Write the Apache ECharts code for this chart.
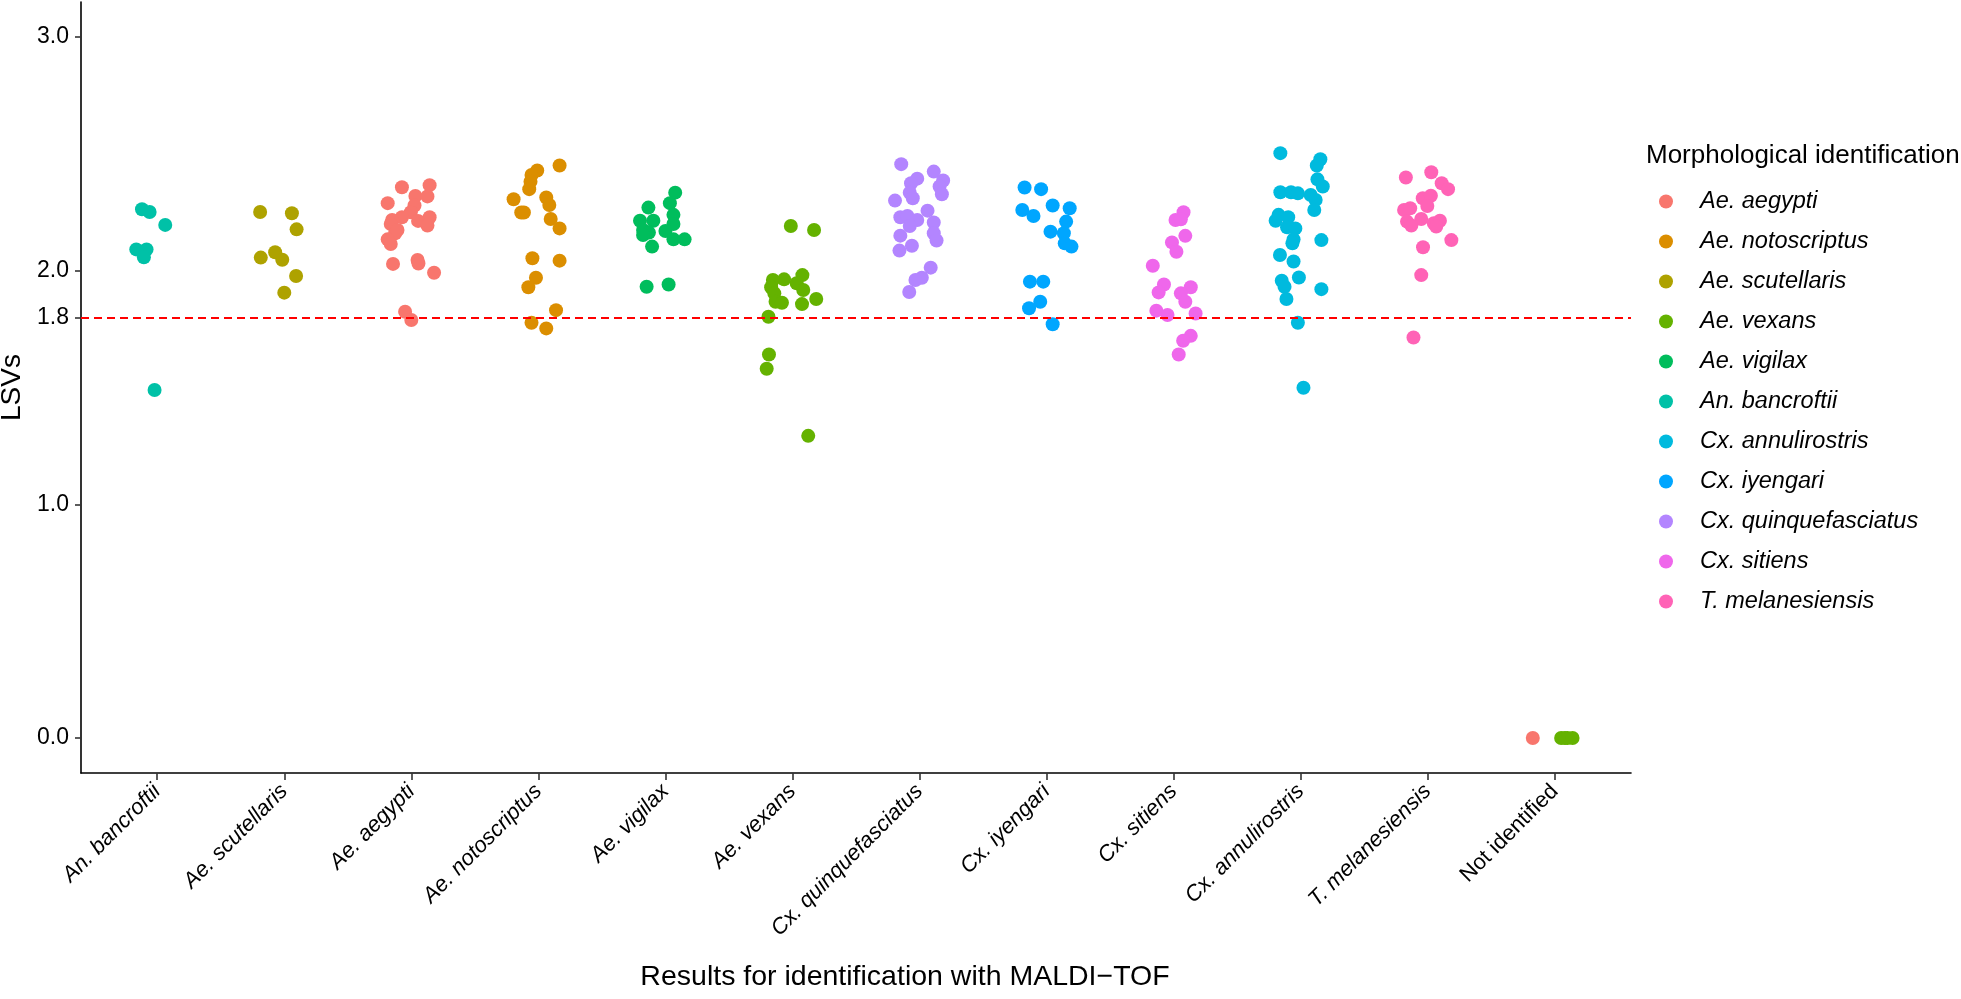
<!DOCTYPE html>
<html>
<head>
<meta charset="utf-8">
<style>
  html, body { margin: 0; padding: 0; background: #fff; }
  #chart { width: 1961px; height: 999px; }
</style>
<script src="https://cdn.jsdelivr.net/npm/echarts@6/dist/echarts.min.js"></script>
</head>
<body>
<div id="chart"></div>
<script>
/* ---------- categories / ticks ---------- */
const maldiCategories = [
  "An. bancroftii", "Ae. scutellaris", "Ae. aegypti", "Ae. notoscriptus", "Ae. vigilax",
  "Ae. vexans", "Cx. quinquefasciatus", "Cx. iyengari", "Cx. sitiens", "Cx. annulirostris",
  "T. melanesiensis", "Not identified"
];
const yTicks = [0, 1, 1.8, 2, 3];
const threshold = 1.8;

const morphSpecies = [
  "Ae. aegypti", "Ae. notoscriptus", "Ae. scutellaris", "Ae. vexans", "Ae. vigilax",
  "An. bancroftii", "Cx. annulirostris", "Cx. iyengari", "Cx. quinquefasciatus",
  "Cx. sitiens", "T. melanesiensis"
];
const morphColors = [
  "#F8766D", "#DB8E00", "#AEA200", "#64B200", "#00BD5C",
  "#00C1A7", "#00BADE", "#00A6FF", "#B385FF", "#EF67EB", "#FF63B6"
];

/* ---------- points: [MALDI category index, jitter, LSV] ---------- */
const aeAegypti = [[2,-0.074,2.357],[2,0.144,2.366],[2,-0.186,2.289],[2,0.032,2.32],[2,0.127,2.318],
  [2,0.025,2.279],[2,-0.004,2.25],[2,-0.074,2.229],[2,-0.151,2.217],[2,0.144,2.229],[2,0.053,2.213],
  [2,0.127,2.193],[2,-0.162,2.2],[2,-0.127,2.16],[2,-0.186,2.134],[2,-0.162,2.114],[2,-0.109,2.174],
  [2,-0.144,2.029],[2,0.049,2.046],[2,0.056,2.031],[2,0.179,1.991],[2,-0.049,1.824],[2,0,1.789],
  [11,-0.173,0]];
const aeNotoscriptus = [[3,0.167,2.45],[3,-0.009,2.429],[3,-0.054,2.41],[3,-0.062,2.381],[3,-0.072,2.349],
  [3,-0.195,2.306],[3,0.062,2.313],[3,0.086,2.281],[3,-0.135,2.249],[3,-0.114,2.249],[3,0.097,2.221],
  [3,0.167,2.181],[3,-0.047,2.053],[3,0.167,2.043],[3,-0.019,1.97],[3,-0.079,1.929],[3,0.139,1.831],
  [3,-0.054,1.777],[3,0.062,1.753]];
const aeScutellaris = [[1,-0.19,2.251],[1,0.06,2.246],[1,0.097,2.177],[1,-0.185,2.056],[1,-0.072,2.079],
  [1,-0.016,2.047],[1,0.093,1.977],[1,0,1.906]];
const aeVexans = [[5,-0.013,2.191],[5,0.17,2.174],[5,0.078,1.981],[5,-0.066,1.963],[5,-0.154,1.96],
  [5,0.033,1.946],[5,-0.168,1.929],[5,0.085,1.917],[5,-0.143,1.903],[5,0.187,1.879],[5,-0.133,1.867],
  [5,-0.083,1.863],[5,0.075,1.857],[5,-0.189,1.803],[5,-0.185,1.641],[5,-0.203,1.58],[5,0.124,1.293],
  [11,0.05,0],[11,0.08,0],[11,0.1,0],[11,0.14,0]];
const aeVigilax = [[4,0.077,2.334],[4,0.035,2.289],[4,-0.134,2.27],[4,0.063,2.239],[4,-0.2,2.214],
  [4,-0.095,2.214],[4,0.063,2.2],[4,-0.176,2.174],[4,-0.13,2.163],[4,0,2.17],[4,-0.176,2.153],
  [4,0.063,2.134],[4,0.151,2.134],[4,-0.105,2.103],[4,-0.148,1.931],[4,0.025,1.941]];
const anBancroftii = [[0,-0.12,2.263],[0,-0.06,2.251],[0,0.063,2.196],[0,-0.165,2.091],[0,-0.084,2.091],
  [0,-0.105,2.057],[0,-0.021,1.489]];
const cxAnnulirostris = [[9,-0.16,2.503],[9,0.155,2.477],[9,0.127,2.45],[9,0.132,2.391],[9,0.174,2.36],
  [9,-0.16,2.336],[9,-0.076,2.336],[9,-0.022,2.331],[9,0.079,2.324],[9,0.118,2.303],[9,0.107,2.26],
  [9,-0.174,2.239],[9,-0.098,2.229],[9,-0.197,2.214],[9,-0.107,2.186],[9,-0.042,2.181],[9,-0.056,2.134],
  [9,-0.065,2.117],[9,0.163,2.131],[9,-0.163,2.067],[9,-0.056,2.039],[9,-0.014,1.971],[9,-0.149,1.957],
  [9,-0.127,1.931],[9,-0.112,1.879],[9,0.163,1.921],[9,-0.022,1.777],[9,0.022,1.499]];
const cxIyengari = [[7,-0.173,2.356],[7,-0.043,2.349],[7,-0.191,2.26],[7,-0.103,2.234],[7,0.048,2.279],
  [7,0.182,2.267],[7,0.154,2.21],[7,0.031,2.167],[7,0.136,2.16],[7,0.143,2.117],[7,0.196,2.103],
  [7,-0.131,1.953],[7,-0.026,1.953],[7,-0.138,1.839],[7,-0.05,1.867],[7,0.048,1.771]];
const cxQuinquefasciatus = [[6,-0.144,2.456],[6,0.112,2.424],[6,-0.018,2.394],[6,-0.067,2.374],
  [6,0.186,2.386],[6,0.158,2.36],[6,-0.077,2.334],[6,-0.053,2.31],[6,0.176,2.327],[6,-0.193,2.3],
  [6,0.063,2.257],[6,-0.151,2.229],[6,-0.095,2.234],[6,-0.018,2.217],[6,-0.077,2.191],[6,0.112,2.206],
  [6,-0.151,2.15],[6,0.112,2.16],[6,0.134,2.129],[6,-0.06,2.107],[6,-0.158,2.086],[6,0.088,2.013],
  [6,0.018,1.97],[6,-0.032,1.96],[6,-0.081,1.909]];
const cxSitiens = [[8,0.078,2.25],[8,0.015,2.217],[8,0.057,2.22],[8,0.092,2.149],[8,-0.013,2.121],
  [8,0.022,2.081],[8,-0.164,2.021],[8,-0.076,1.941],[8,-0.118,1.907],[8,0.135,1.929],[8,0.057,1.903],
  [8,0.092,1.867],[8,-0.136,1.829],[8,-0.048,1.81],[8,0.173,1.817],[8,0.135,1.721],[8,0.075,1.7],
  [8,0.04,1.641]];
const tMelanesiensis = [[10,-0.172,2.399],[10,0.028,2.421],[10,0.11,2.374],[10,0.16,2.349],[10,-0.039,2.31],
  [10,0.025,2.321],[10,-0.003,2.277],[10,-0.186,2.26],[10,-0.138,2.267],[10,-0.163,2.21],[10,-0.051,2.221],
  [10,-0.129,2.193],[10,0.048,2.203],[10,0.096,2.214],[10,0.067,2.189],[10,0.186,2.131],[10,-0.037,2.1],
  [10,-0.051,1.981],[10,-0.112,1.714]];

const speciesPoints = [aeAegypti, aeNotoscriptus, aeScutellaris, aeVexans, aeVigilax, anBancroftii,
  cxAnnulirostris, cxIyengari, cxQuinquefasciatus, cxSitiens, tMelanesiensis];

/* ---------- chart ---------- */
const FONT = "'Liberation Sans', Arial, Helvetica, sans-serif";
const chart = echarts.init(document.getElementById("chart"));

const series = morphSpecies.map((name, i) => ({
  name,
  type: "scatter",
  symbol: "circle",
  symbolSize: 14,
  itemStyle: { color: morphColors[i], opacity: 1 },
  emphasis: { disabled: true },
  data: speciesPoints[i].map((p) => [p[0] + p[1], p[2]]),
}));

// dashed threshold line
series[0].markLine = {
  silent: true,
  symbol: ["none", "none"],
  label: { show: false },
  lineStyle: { color: "#FF0000", type: [8, 5], width: 2 },
  data: [{ yAxis: threshold }],
};

const catIdx = maldiCategories.map((_, i) => i);

const option = {
  backgroundColor: "#fff",
  animation: false,
  textStyle: { fontFamily: FONT },
  title: {
    text: "Morphological identification",
    left: 1646,
    top: 143,
    padding: 0,
    textStyle: { fontFamily: FONT, fontSize: 26, fontWeight: "normal", color: "#000" },
  },
  legend: {
    orient: "vertical",
    left: 1659,
    top: 190,
    padding: 0,
    icon: "circle",
    itemWidth: 14,
    itemHeight: 14,
    itemGap: 17,
    data: morphSpecies,
    formatter: (name) => "{a|" + name + "}",
    textStyle: {
      rich: {
        a: { fontFamily: FONT, fontSize: 23.5, fontStyle: "italic", color: "#000", lineHeight: 24, padding: [0, 0, 0, 22] },
      },
    },
  },
  grid: {
    left: 81,
    right: 330,
    top: 2,
    bottom: 226,
    outerBoundsMode: "none",
  },
  xAxis: {
    type: "value",
    min: -0.6,
    max: 11.6,
    splitLine: { show: false },
    axisLine: { show: true, onZero: false, lineStyle: { color: "#000", width: 1.6 } },
    axisTick: { show: true, customValues: catIdx, length: 7, lineStyle: { color: "#333", width: 1.6 } },
    axisLabel: {
      customValues: catIdx,
      rotate: 45,
      margin: 15,
      formatter: (v) => {
        const name = maldiCategories[Math.round(v)];
        return name === "Not identified" ? "{n|" + name + "}" : "{i|" + name + "}";
      },
      rich: {
        i: { fontFamily: FONT, fontSize: 22, fontStyle: "italic", color: "#000" },
        n: { fontFamily: FONT, fontSize: 22, color: "#000" },
      },
    },
  },
  yAxis: {
    type: "value",
    min: -0.15,
    max: 3.15,
    name: "LSVs",
    nameLocation: "middle",
    nameGap: 45,
    nameTextStyle: { fontFamily: FONT, fontSize: 28, color: "#000" },
    splitLine: { show: false },
    axisLine: { show: true, onZero: false, lineStyle: { color: "#000", width: 1.6 } },
    axisTick: { show: true, customValues: yTicks, length: 6, lineStyle: { color: "#333", width: 1.6 } },
    axisLabel: {
      customValues: yTicks,
      margin: 12,
      fontFamily: FONT,
      fontSize: 23,
      color: "#000",
      formatter: (v) => v.toFixed(1),
    },
  },
  graphic: [
    {
      type: "text",
      x: 905,
      y: 977,
      style: {
        text: "Results for identification with MALDI\u2212TOF",
        font: "28.5px " + FONT,
        fill: "#000",
        align: "center",
        verticalAlign: "middle",
      },
    },
  ],
  series,
};

chart.setOption(option);
window.addEventListener("resize", () => chart.resize());
</script>
</body>
</html>
